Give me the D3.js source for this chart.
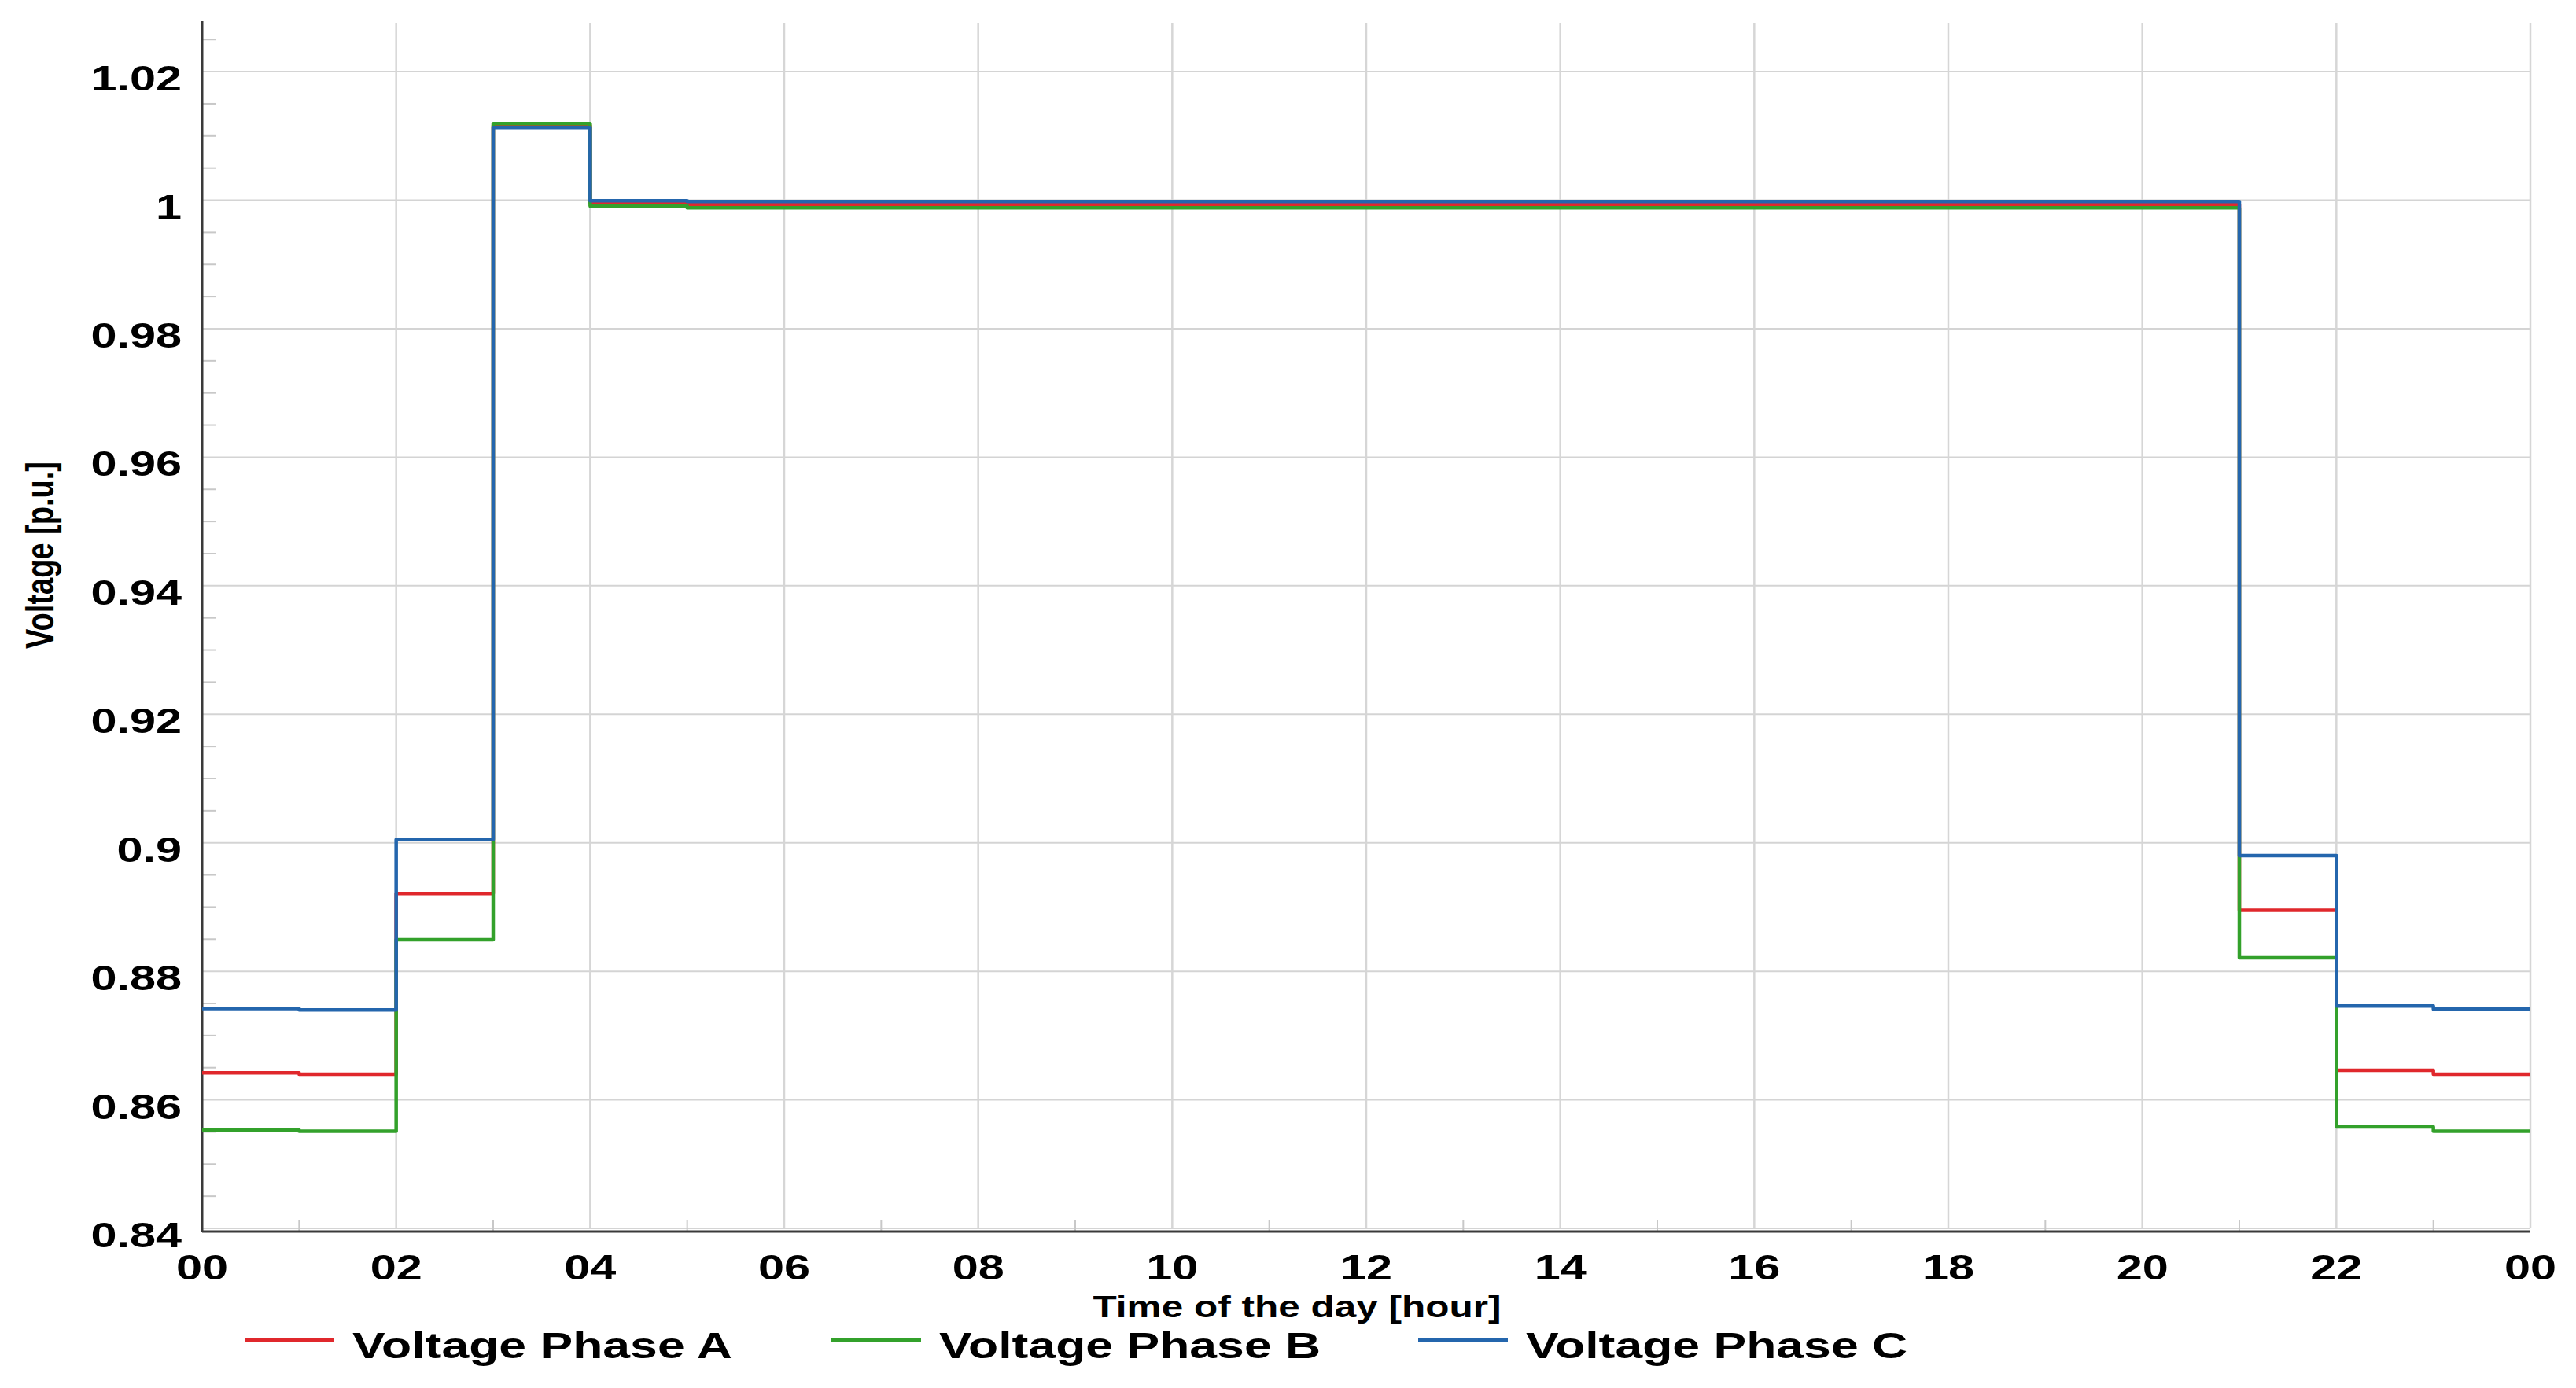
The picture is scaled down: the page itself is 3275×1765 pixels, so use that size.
<!DOCTYPE html>
<html>
<head>
<meta charset="utf-8">
<script src="https://cdn.jsdelivr.net/npm/d3@7"></script>
<style>
  html, body { margin: 0; padding: 0; background: #ffffff; }
  svg { display: block; }
  text { font-family: "Liberation Sans", Arial, sans-serif; font-weight: bold; fill: #000; }
</style>
</head>
<body>
<script>
// ---------------- data ----------------
const hours = [0,1,2,3,4,5,6,7,8,9,10,11,12,13,14,15,16,17,18,19,20,21,22,23];
const phaseA = [0.8642,0.8640,0.8921,1.0116,0.9995,0.9993,0.9993,0.9993,0.9993,0.9993,0.9993,0.9993,0.9993,0.9993,0.9993,0.9993,0.9993,0.9993,0.9993,0.9993,0.9993,0.8895,0.8646,0.8640];
const phaseB = [0.8553,0.8551,0.8849,1.0119,0.9991,0.9988,0.9988,0.9988,0.9988,0.9988,0.9988,0.9988,0.9988,0.9988,0.9988,0.9988,0.9988,0.9988,0.9988,0.9988,0.9988,0.8821,0.8558,0.8551];
const phaseC = [0.8742,0.8740,0.9005,1.0113,0.9999,0.9998,0.9998,0.9998,0.9998,0.9998,0.9998,0.9998,0.9998,0.9998,0.9998,0.9998,0.9998,0.9998,0.9998,0.9998,0.9998,0.8980,0.8746,0.8741];
const seriesNames = ["Voltage Phase A","Voltage Phase B","Voltage Phase C"];
const seriesColors = ["#e0282c","#33a12b","#2466ad"];
const xTickValues = [0,2,4,6,8,10,12,14,16,18,20,22,24];
const xTickLabels = ["00","02","04","06","08","10","12","14","16","18","20","22","00"];
const yTickValues = [0.84,0.86,0.88,0.90,0.92,0.94,0.96,0.98,1.00,1.02];
const yTickLabels = ["0.84","0.86","0.88","0.9","0.92","0.94","0.96","0.98","1","1.02"];
const xTitle = "Time of the day [hour]";
const yTitle = "Voltage [p.u.]";

// ---------------- layout ----------------
const W = 3275, H = 1765;
const L = 257, R = 3217, T = 29, B = 1562;
const SX = 1.35; // horizontal glyph stretch seen in the reference

const svg = d3.select("body").append("svg").attr("width", W).attr("height", H);

const x = d3.scaleLinear().domain([0, 24]).range([L, R]);
const y = d3.scaleLinear().domain([0.84, 1.0276]).range([B, T]);

// grid
const grid = svg.append("g");
grid.selectAll("line.hg").data(yTickValues).join("line")
  .attr("x1", L).attr("x2", R).attr("y1", d => y(d)).attr("y2", d => y(d))
  .attr("stroke", "#d4d4d4").attr("stroke-width", 2);
grid.selectAll("line.vg").data(xTickValues.slice(1)).join("line")
  .attr("x1", d => x(d)).attr("x2", d => x(d)).attr("y1", T).attr("y2", B)
  .attr("stroke", "#d6d6d6").attr("stroke-width", 2.5);

// minor ticks
const yMinor = d3.range(0.845, 1.0276, 0.005).filter(v => Math.abs(Math.round(v / 0.02) * 0.02 - v) > 1e-6);
grid.selectAll("line.ym").data(yMinor).join("line")
  .attr("x1", L).attr("x2", L + 17).attr("y1", d => y(d)).attr("y2", d => y(d))
  .attr("stroke", "#c8c8c8").attr("stroke-width", 2);
const xMinor = d3.range(1, 24, 2);
grid.selectAll("line.xm").data(xMinor).join("line")
  .attr("x1", d => x(d)).attr("x2", d => x(d)).attr("y1", B + 3).attr("y2", B - 10)
  .attr("stroke", "#c8c8c8").attr("stroke-width", 2);

// axes lines
svg.append("line").attr("x1", L).attr("x2", L).attr("y1", T - 2).attr("y2", B + 5)
  .attr("stroke", "#3a3a3a").attr("stroke-width", 3);
svg.append("line").attr("x1", L).attr("x2", R).attr("y1", B + 4).attr("y2", B + 4)
  .attr("stroke", "#3a3a3a").attr("stroke-width", 3);

// series (step lines)
const lineGen = d3.line().x(d => x(d[0])).y(d => y(d[1])).curve(d3.curveStepAfter);
[phaseA, phaseB, phaseC].forEach((vals, i) => {
  const pts = hours.map((h, j) => [h, vals[j]]);
  pts.push([24, vals[vals.length - 1]]);
  svg.append("path").datum(pts)
    .attr("d", lineGen)
    .attr("fill", "none")
    .attr("stroke", seriesColors[i])
    .attr("stroke-width", 4.5)
    .attr("stroke-linejoin", "round");
});

// helper for stretched text
function sText(px, py, str, size, anchor, sx) {
  return svg.append("text")
    .attr("transform", `translate(${px},${py}) scale(${sx},1)`)
    .attr("text-anchor", anchor)
    .attr("font-size", size)
    .text(str);
}

// tick labels
yTickValues.forEach((v, i) => sText(231, y(v) + 24, yTickLabels[i], 44, "end", SX));
xTickValues.forEach((v, i) => sText(x(v), 1627, xTickLabels[i], 44, "middle", SX));

// axis titles
sText(1649, 1675, xTitle, 39, "middle", 1.27);
svg.append("text")
  .attr("transform", `translate(53,706) scale(1.3,1) rotate(-90)`)
  .attr("text-anchor", "middle")
  .attr("dy", "0.3em")
  .attr("font-size", 38)
  .text(yTitle);

// legend
const legX = [311, 1057, 1803];
seriesNames.forEach((name, i) => {
  svg.append("line").attr("x1", legX[i]).attr("x2", legX[i] + 114)
    .attr("y1", 1704).attr("y2", 1704)
    .attr("stroke", seriesColors[i]).attr("stroke-width", 4);
  sText(legX[i] + 137, 1727, name, 47, "start", 1.33);
});
</script>
</body>
</html>
